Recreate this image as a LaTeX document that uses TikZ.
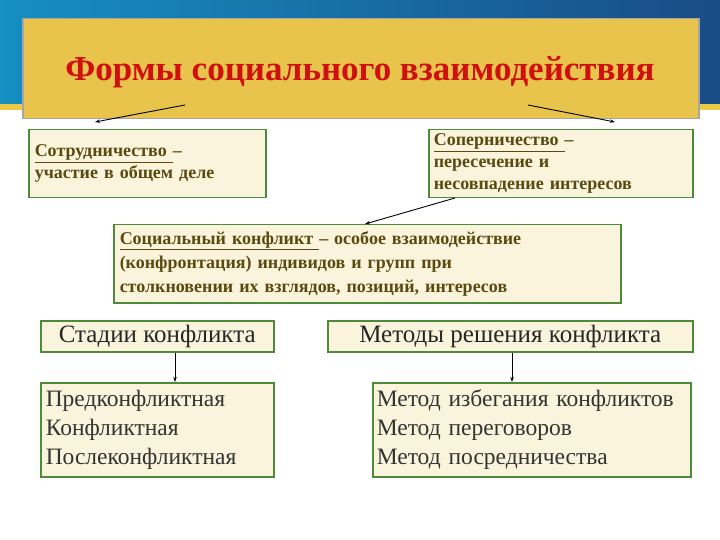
\documentclass[tikz,border=0pt]{standalone}
\usepackage{fontspec}
\setmainfont{Liberation Serif}
\usetikzlibrary{arrows.meta}
\definecolor{boxfill}{HTML}{FBF4DC}
\definecolor{boxline}{HTML}{4E8A3A}
\definecolor{txt}{HTML}{5A4A10}
\definecolor{titlefill}{HTML}{E8C44C}
\definecolor{titlered}{HTML}{D01010}
\definecolor{band}{HTML}{1F5FA8}
\tikzset{
  bx/.style={draw=boxline,line width=1.5pt,fill=boxfill,inner sep=4pt},
  up/.style={font=\bfseries\fontsize{18}{22}\selectfont,text=txt,align=left},
  lst/.style={font=\fontsize{23.5}{29}\selectfont,text=black!80,align=left},
  arr/.style={-{Stealth[length=5pt,width=3.5pt]},line width=0.9pt,black}
}
\begin{document}
\begin{tikzpicture}[x=1pt,y=-1pt]
\useasboundingbox (0,0) rectangle (720,540);
\fill[white] (0,0) rectangle (720,540);
\shade[left color=band!70!cyan, right color=band!80!black] (0,0) rectangle (720,105);
\fill[titlefill!90!yellow] (0,104) rectangle (720,110);
\node[draw=gray!70,line width=1.5pt,fill=titlefill,minimum width=676pt,minimum height=100pt,anchor=north west,inner sep=0pt] (title) at (22,18) {};
\node[font=\bfseries\fontsize{35}{40}\selectfont,text=titlered] at (360,72) {Формы социального взаимодействия};
\node[bx,anchor=north west,minimum width=237pt,minimum height=68pt,text width=225pt,up,inner ysep=1pt,inner xsep=6pt] (coop) at (28,129) {\underline{Сотрудничество }–\\участие в общем деле};
\node[bx,anchor=north west,minimum width=264pt,minimum height=68pt,text width=254pt,up,inner ysep=1pt,inner xsep=5pt] (riv) at (428,129) {\underline{Соперничество }–\\пересечение и\\несовпадение интересов};
\node[bx,anchor=north west,minimum width=507pt,minimum height=78pt,text width=495pt,inner ysep=2pt,inner xsep=6pt,up,font=\bfseries\fontsize{18}{24}\selectfont] (conf) at (113,224) {\underline{Социальный конфликт }– особое взаимодействие\\(конфронтация) индивидов и групп при\\столкновении их взглядов, позиций, интересов};
\node[bx,anchor=north west,minimum width=233pt,minimum height=31pt,inner sep=0pt,font=\fontsize{25}{28}\selectfont,text=black!85] (st) at (40,320) {Стадии конфликта};
\node[bx,anchor=north west,minimum width=365pt,minimum height=31pt,inner sep=0pt,font=\fontsize{25}{28}\selectfont,text=black!85] (me) at (327,320) {Методы решения конфликта};
\node[bx,anchor=north west,minimum width=233pt,minimum height=94pt,text width=223pt,inner ysep=2pt,inner xsep=5pt,lst] (stl) at (40,382) {Предконфликтная\\Конфликтная\\Послеконфликтная};
\node[bx,anchor=north west,minimum width=318pt,minimum height=94pt,text width=310pt,inner ysep=2pt,inner xsep=4pt,lst] (mel) at (372,382) {Метод избегания конфликтов\\Метод переговоров\\Метод посредничества};
\coordinate (a1) at (185,105); \coordinate (b1) at (95,122);
\coordinate (a2) at (528,105); \coordinate (b2) at (615,122);
\draw[arr] (a1) -- (b1);
\draw[arr] (a2) -- (b2);
\draw[arr] (455,198) -- (conf.north west -| 365,0) ;
\draw[arr] (st.south -| 175,0) -- (stl.north -| 175,0);
\draw[arr] (me.south -| 512,0) -- (mel.north -| 512,0);
\end{tikzpicture}
\end{document}
